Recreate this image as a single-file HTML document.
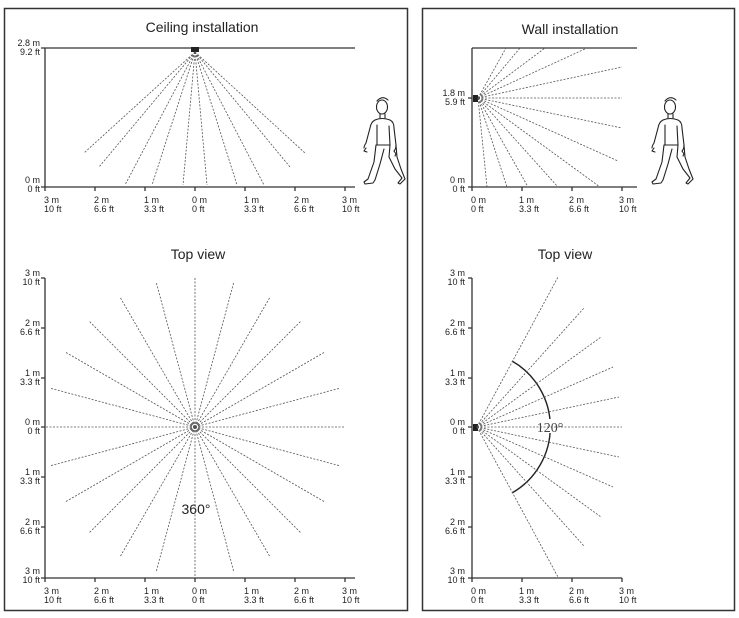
<!DOCTYPE html>
<html><head><meta charset="utf-8"><style>
html,body{margin:0;padding:0;background:#fff;}
svg{display:block;font-family:"Liberation Sans",sans-serif;}
.t{font-size:14px;fill:#222;text-anchor:middle}
.s{font-size:9px;fill:#222;}
.ax{stroke:#333;stroke-width:1.3;fill:none}
.r{stroke:#555;stroke-width:0.8;stroke-dasharray:2 1.5;fill:none}
</style></head><body>
<svg id="g" width="739" height="618" viewBox="0 0 739 618">
<rect x="4.5" y="8.5" width="403" height="602" fill="none" stroke="#333" stroke-width="1.5"/>
<rect x="422.5" y="8.5" width="312" height="602" fill="none" stroke="#333" stroke-width="1.5"/>
<text class="t" x="202" y="32">Ceiling installation</text>
<text class="t" x="570" y="34">Wall installation</text>
<text class="t" x="198" y="259">Top view</text>
<text class="t" x="565" y="259">Top view</text>

<path class="ax" d="M45 48H355 M45 48V187 M45 187H355"/>
<path class="ax" d="M45 187v4M95 187v4M145 187v4M195 187v4M245 187v4M295 187v4M345 187v4M41 48h4M41 187h4"/>
<rect x="191" y="47" width="8" height="5" fill="#222"/>
<g class="s" text-anchor="end"><text x="40" y="46">2.8 m</text><text x="40" y="55">9.2 ft</text><text x="40" y="183">0 m</text><text x="40" y="192">0 ft</text></g>
<g class="s" text-anchor="start">
<text x="44" y="203">3 m</text><text x="44" y="212">10 ft</text>
<text x="94" y="203">2 m</text><text x="94" y="212">6.6 ft</text>
<text x="144" y="203">1 m</text><text x="144" y="212">3.3 ft</text>
<text x="192" y="203">0 m</text><text x="192" y="212">0 ft</text>
<text x="244" y="203">1 m</text><text x="244" y="212">3.3 ft</text>
<text x="294" y="203">2 m</text><text x="294" y="212">6.6 ft</text>
<text x="342" y="203">3 m</text><text x="342" y="212">10 ft</text>
</g>

<path class="ax" d="M472 48H637 M472 48V187 M472 187H637"/>
<path class="ax" d="M472 187v4M522 187v4M572 187v4M622 187v4M468 98h4M468 187h4"/>
<rect x="473" y="95" width="5" height="7" fill="#222"/>
<g class="s" text-anchor="end"><text x="465" y="96">1.8 m</text><text x="465" y="105">5.9 ft</text><text x="465" y="183">0 m</text><text x="465" y="192">0 ft</text></g>
<g class="s">
<text x="471" y="203">0 m</text><text x="471" y="212">0 ft</text>
<text x="519" y="203">1 m</text><text x="519" y="212">3.3 ft</text>
<text x="569" y="203">2 m</text><text x="569" y="212">6.6 ft</text>
<text x="619" y="203">3 m</text><text x="619" y="212">10 ft</text>
</g>

<path class="ax" d="M45 278V578 M45 578H355"/>
<path class="ax" d="M41 278h4M41 328h4M41 378h4M41 427h4M41 477h4M41 527h4M41 578h4M45 578v4M95 578v4M145 578v4M195 578v4M245 578v4M295 578v4M345 578v4"/>
<g class="s" text-anchor="end">
<text x="40" y="276">3 m</text><text x="40" y="285">10 ft</text>
<text x="40" y="326">2 m</text><text x="40" y="335">6.6 ft</text>
<text x="40" y="376">1 m</text><text x="40" y="385">3.3 ft</text>
<text x="40" y="425">0 m</text><text x="40" y="434">0 ft</text>
<text x="40" y="475">1 m</text><text x="40" y="484">3.3 ft</text>
<text x="40" y="525">2 m</text><text x="40" y="534">6.6 ft</text>
<text x="40" y="574">3 m</text><text x="40" y="583">10 ft</text>
</g>
<g class="s">
<text x="44" y="594">3 m</text><text x="44" y="603">10 ft</text>
<text x="94" y="594">2 m</text><text x="94" y="603">6.6 ft</text>
<text x="144" y="594">1 m</text><text x="144" y="603">3.3 ft</text>
<text x="192" y="594">0 m</text><text x="192" y="603">0 ft</text>
<text x="244" y="594">1 m</text><text x="244" y="603">3.3 ft</text>
<text x="294" y="594">2 m</text><text x="294" y="603">6.6 ft</text>
<text x="342" y="594">3 m</text><text x="342" y="603">10 ft</text>
</g>
<circle cx="195" cy="427" r="4" fill="none" stroke="#777" stroke-width="1.5"/>
<text x="196" y="514" text-anchor="middle" style="font-size:14px;fill:#222">360°</text>

<path class="ax" d="M472 278V578 M472 578H622"/>
<path class="ax" d="M468 278h4M468 328h4M468 378h4M468 427h4M468 477h4M468 527h4M468 578h4M472 578v4M522 578v4M572 578v4M622 578v4"/>
<g class="s" text-anchor="end">
<text x="465" y="276">3 m</text><text x="465" y="285">10 ft</text>
<text x="465" y="326">2 m</text><text x="465" y="335">6.6 ft</text>
<text x="465" y="376">1 m</text><text x="465" y="385">3.3 ft</text>
<text x="465" y="425">0 m</text><text x="465" y="434">0 ft</text>
<text x="465" y="475">1 m</text><text x="465" y="484">3.3 ft</text>
<text x="465" y="525">2 m</text><text x="465" y="534">6.6 ft</text>
<text x="465" y="574">3 m</text><text x="465" y="583">10 ft</text>
</g>
<g class="s">
<text x="471" y="594">0 m</text><text x="471" y="603">0 ft</text>
<text x="519" y="594">1 m</text><text x="519" y="603">3.3 ft</text>
<text x="569" y="594">2 m</text><text x="569" y="603">6.6 ft</text>
<text x="619" y="594">3 m</text><text x="619" y="603">10 ft</text>
</g>
<rect x="473" y="424" width="5" height="7" fill="#222"/>
<path d="M512 361 A76 76 0 0 1 512 493" fill="none" stroke="#222" stroke-width="1.4"/>
<rect x="535" y="419" width="30" height="14" fill="#fff"/>
<text x="550" y="432" text-anchor="middle" style="font-family:'Liberation Serif',serif;font-size:14px;fill:#444">120°</text>

<g id="p" fill="none" stroke="#222" stroke-width="1.1" stroke-linejoin="round" stroke-linecap="round">
<ellipse cx="382" cy="107" rx="5.5" ry="7"/>
<path d="M377 101q5-6 11-1"/>
<path d="M380 114l0 4M385 114l0 4"/>
<path d="M375 120q7-3 15 0q4 2 4 8l2 17q0 4-2 6"/>
<path d="M375 120q-4 2-5 8l-4 15q-2 3-2 5"/>
<path d="M366 148l-2 3l3 1"/>
<path d="M394 151l2 3l-1 2"/>
<path d="M377 125l0 20M389 126l1 19"/>
<path d="M376 145h14"/>
<path d="M376 145l-2 17l-6 17l-4 3l1 2l8-1l2-3l5-16l4-15"/>
<path d="M390 145l-1 12l6 12l7 9l-4 5l2 1l5-5l-4-10l-4-12l-1-12"/>
</g>
<use href="#p" transform="translate(288,0)"/>
</svg>
<script>
(function(){
var g=document.getElementById('g'),ns='http://www.w3.org/2000/svg';
function L(x1,y1,x2,y2){var l=document.createElementNS(ns,'line');l.setAttribute('x1',x1);l.setAttribute('y1',y1);l.setAttribute('x2',x2);l.setAttribute('y2',y2);l.setAttribute('class','r');g.appendChild(l);}
[[84,153],[99,167],[125,185],[152,185],[183,185],[207,185],[237,185],[264,185],[290,167],[305,153]].forEach(function(p){L(195,52,p[0],p[1]);});
[[506,48],[520,48],[545,48],[587,48],[622,67],[622,98],[622,128],[618,161],[600,187],[558,187],[528,187],[507,187],[487,187]].forEach(function(p){L(478,98,p[0],p[1]);});
for(var a=0;a<360;a+=15){var r=150,rad=a*Math.PI/180;L(195,427,195+r*Math.sin(rad),427-r*Math.cos(rad));}
[[558,277],[584,308],[601,337],[613,367],[619,397],[622,427],[619,457],[613,487],[601,517],[584,546],[558,577]].forEach(function(p){L(477,427,p[0],p[1]);});
})();
</script>
</body></html>
